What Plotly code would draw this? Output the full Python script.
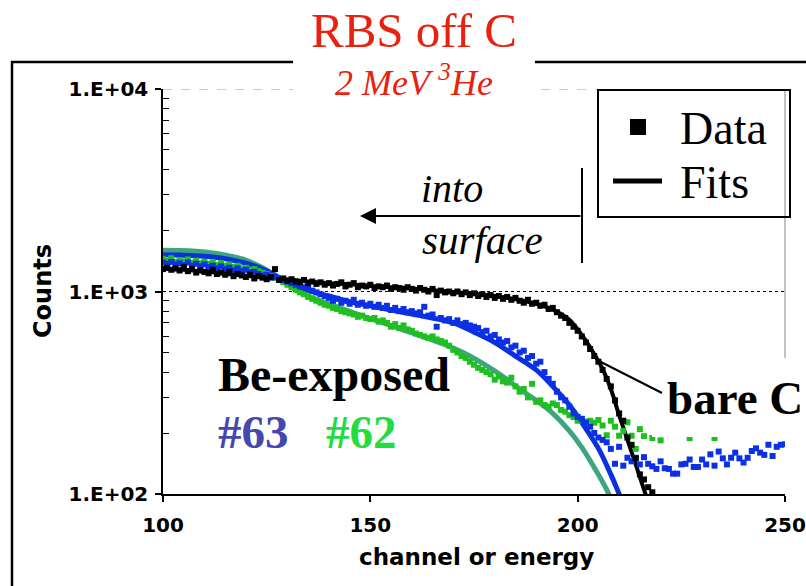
import plotly.graph_objects as go

# ---------------- data ----------------
ch_black = list(range(100, 219))
black_data = [1290, 1310, 1280, 1300, 1270, 1320, 1260, 1290, 1240, 1270,
              1250, 1230, 1280, 1220, 1240, 1210, 1250, 1190, 1220, 1200,
              1180, 1210, 1160, 1190, 1170, 1150, 1180, 1290, 1140, 1160,
              1130, 1150, 1120, 1110, 1140, 1100, 1120, 1090, 1110, 1080,
              1100, 1070, 1090, 1110, 1060, 1080, 1100, 1050, 1070, 1060,
              1080, 1040, 1060, 1050, 1070, 1030, 1050, 1040, 1020, 1050,
              1030, 1010, 1040, 1020, 1000, 1030, 960, 1010, 990, 1000,
              980, 1000, 970, 990, 960, 980, 950, 970, 940, 960,
              930, 950, 920, 940, 910, 930, 900, 880, 910, 870,
              880, 850, 860, 820, 830, 790, 760, 740, 700, 670,
              640, 600, 560, 520, 480, 450, 410, 370, 340, 290,
              250, 230, 190, 175, 150, 125, 118, 108, 102]

ch_blue = list(range(100, 251))
blue_data = [1390, 1370, 1400, 1360, 1380, 1350, 1390, 1340, 1370, 1330,
             1360, 1320, 1340, 1300, 1330, 1290, 1310, 1270, 1300, 1260,
             1280, 1240, 1250, 1220, 1200, 1210, 1170, 1180, 1150, 1140,
             1120, 1100, 1080, 1060, 1050, 1030, 1010, 990, 970, 950,
             930, 900, 920, 880, 900, 870, 910, 860, 880, 850,
             870, 840, 860, 830, 850, 810, 830, 800, 820, 790,
             800, 780, 790, 840, 760, 770, 670, 740, 720, 730,
             700, 720, 690, 700, 680, 670, 660, 630, 640, 600,
             610, 580, 560, 570, 530, 540, 500, 510, 470, 480,
             440, 450, 400, 370, 350, 320, 300, 290, 270, 250,
             240, 235, 225, 215, 200, 190, 185, 180, 167, 141,
             171, 138, 151, 145, 151, 140, 152, 141, 137, 133,
             145, 134, 133, 126, 126, 140, 141, 148, 136, 136,
             148, 140, 157, 138, 162, 150, 140, 151, 160, 150,
             143, 151, 163, 168, 160, 156, 175, 154, 171, 175,
             176]

ch_green = list(range(100, 217)) + [218, 220, 224, 227, 230, 233, 236, 240]
green_data = [1450, 1420, 1460, 1400, 1430, 1410, 1440, 1390, 1420, 1380,
              1400, 1370, 1390, 1350, 1380, 1340, 1360, 1320, 1340, 1300,
              1310, 1280, 1290, 1260, 1240, 1220, 1190, 1170, 1140, 1110,
              1080, 1050, 1020, 990, 970, 940, 920, 900, 880, 860,
              850, 830, 820, 800, 790, 780, 770, 750, 760, 740,
              730, 740, 710, 720, 700, 670, 690, 660, 680, 650,
              640, 620, 610, 600, 590, 600, 580, 570, 560, 540,
              515, 500, 480, 470, 450, 435, 420, 410, 400, 390,
              367, 380, 360, 355, 375, 340, 320, 330, 300, 350,
              285, 290, 275, 270, 280, 275, 260, 255, 245, 240,
              230, 235, 228, 230, 225, 232, 218, 195, 230, 215,
              194, 205, 226, 194, 167, 209, 193,
              189, 184, 210, 189, 220, 189, 200, 215]

fit_black_ch = [100, 105, 110, 115, 120, 125, 130, 135, 140, 145, 150, 155, 160, 165,
                170, 175, 180, 185, 190, 193, 196, 198, 200, 202, 204, 206, 208, 210,
                212, 214, 216, 218]
fit_black = [1300, 1280, 1255, 1225, 1195, 1170, 1145, 1120, 1100, 1085, 1065, 1050, 1035, 1015,
             995, 975, 950, 915, 870, 830, 775, 725, 650, 570, 490, 415, 330, 245,
             185, 140, 105, 80]

fit_blue_ch = [100, 104, 108, 112, 116, 120, 124, 128, 132, 136, 140, 145, 150, 155, 160,
               165, 170, 175, 180, 185, 190, 194, 198, 202, 205, 208, 210, 212]
fit_blue = [1520, 1515, 1500, 1480, 1440, 1380, 1290, 1170, 1060, 1000, 950, 890, 850, 810, 775,
            740, 700, 630, 560, 480, 410, 340, 275, 210, 168, 125, 100, 80]

fit_green_ch = [100, 104, 108, 112, 116, 120, 124, 128, 132, 136, 140, 146, 150, 154, 158,
                162, 166, 170, 174, 178, 182, 186, 190, 194, 198, 201, 204, 207, 209]
fit_green = [1600, 1595, 1580, 1550, 1500, 1430, 1310, 1170, 1020, 930, 870, 785, 735, 690, 645,
             605, 565, 525, 480, 430, 380, 330, 290, 250, 205, 170, 135, 105, 85]

x_ticks = [100, 150, 200, 250]
y_ticks = [100, 1000, 10000]
y_ticktext = ["1.E+02", "1.E+03", "1.E+04"]
y_minor = [m * 10 ** e for e in (2, 3) for m in range(2, 10)]

# ---------------- geometry helpers (pixel -> paper) ----------------
W, H = 806, 586
L, R, T, B = 163, 785, 89, 494


def px(x):
    return (x - L) / (R - L)


def py(y):
    return (B - y) / (B - T)


SERIF = "Liberation Serif, Times New Roman, serif"
SANS = "DejaVu Sans, Verdana, sans-serif"
RED = "#e8220f"

fig = go.Figure()

# fits
fig.add_trace(go.Scatter(x=fit_green_ch, y=fit_green, mode="lines", line_shape="spline",
                         line=dict(color="#3fa57e", width=5), showlegend=False))
fig.add_trace(go.Scatter(x=fit_blue_ch, y=fit_blue, mode="lines", line_shape="spline",
                         line=dict(color="#0b30e0", width=5), showlegend=False))
fig.add_trace(go.Scatter(x=fit_black_ch, y=fit_black, mode="lines", line_shape="spline",
                         line=dict(color="black", width=4), showlegend=False))
# data
fig.add_trace(go.Scatter(x=ch_green, y=green_data, mode="markers",
                         marker=dict(symbol="square", size=6, color="#1ec01e"), showlegend=False))
fig.add_trace(go.Scatter(x=ch_blue, y=blue_data, mode="markers",
                         marker=dict(symbol="square", size=6, color="#0b30e6"), showlegend=False))
fig.add_trace(go.Scatter(x=ch_black, y=black_data, mode="markers",
                         marker=dict(symbol="square", size=6, color="black"), showlegend=False))

shapes = []
# outer frame
shapes.append(dict(type="rect", xref="paper", yref="paper", x0=px(12), x1=px(830), y0=py(62), y1=py(620),
                   line=dict(color="black", width=2.5), layer="below"))
# gridlines
shapes.append(dict(type="line", xref="paper", yref="y", x0=0, x1=1, y0=1000, y1=1000,
                   line=dict(color="black", width=1, dash="dot"), layer="below"))
shapes.append(dict(type="line", xref="paper", yref="y", x0=0, x1=1, y0=10000, y1=10000,
                   line=dict(color="#999999", width=1.2, dash="dash"), layer="below"))
# right plot border (partial)
shapes.append(dict(type="line", xref="paper", yref="paper", x0=1, x1=1, y0=py(358), y1=1,
                   line=dict(color="#999999", width=1.2), layer="below"))
# title white box
shapes.append(dict(type="rect", xref="paper", yref="paper", x0=px(293), x1=px(535), y0=py(96), y1=py(40),
                   fillcolor="white", line=dict(width=0), layer="above"))
# bare C white box
shapes.append(dict(type="rect", xref="paper", yref="paper", x0=px(652), x1=px(830), y0=py(437), y1=py(358),
                   fillcolor="white", line=dict(width=0), layer="above"))
# bare C pointer
shapes.append(dict(type="line", xref="paper", yref="paper", x0=px(597), y0=py(360), x1=px(662), y1=py(393),
                   line=dict(color="black", width=2), layer="above"))
# into-surface bar
shapes.append(dict(type="line", xref="paper", yref="paper", x0=px(582), x1=px(582), y0=py(168), y1=py(263),
                   line=dict(color="black", width=2), layer="above"))
# legend box
shapes.append(dict(type="rect", xref="paper", yref="paper", x0=px(598), x1=px(790), y0=py(217), y1=py(90),
                   line=dict(color="black", width=2), layer="above"))
shapes.append(dict(type="rect", xref="paper", yref="paper", x0=px(630), x1=px(646), y0=py(135), y1=py(119),
                   fillcolor="black", line=dict(width=0), layer="above"))
shapes.append(dict(type="line", xref="paper", yref="paper", x0=px(613), x1=px(662), y0=py(181), y1=py(181),
                   line=dict(color="black", width=5), layer="above"))

ann = []


def text(t, x, y, size, color="black", family=SERIF, xanchor="center", yanchor="middle", angle=0):
    ann.append(dict(text=t, xref="paper", yref="paper", x=px(x), y=py(y), showarrow=False,
                    xanchor=xanchor, yanchor=yanchor, textangle=angle,
                    font=dict(size=size, color=color, family=family)))


text("RBS off C", 414, 31, 49, RED)
text("<i>2 MeV <sup>3</sup>He</i>", 414, 80, 36, RED)
text("<i>into</i>", 452, 188, 40)
text("<i>surface</i>", 482, 240, 41)
text("<b>Be-exposed</b>", 216, 374, 48, xanchor="left")
text("<b>#63</b>", 216, 432, 47, "#4646b0", xanchor="left")
text("<b>#62</b>", 324, 432, 47, "#22dd40", xanchor="left")
text("<b>bare C</b>", 665, 398, 47, xanchor="left")
text("Data", 678, 128, 46, xanchor="left")
text("Fits", 678, 182, 46, xanchor="left")
text("<b>Counts</b>", 43, 291, 24, family=SANS, angle=-90)
text("<b>channel or energy</b>", 476, 557, 23, family=SANS)

# arrow "into surface"
ann.append(dict(text="", xref="paper", yref="paper", x=px(360), y=py(216), ax=582 - 360, ay=0,
                axref="pixel", ayref="pixel", showarrow=True, arrowhead=2, arrowsize=1.6,
                arrowwidth=2, arrowcolor="black"))

fig.update_layout(
    width=W, height=H,
    margin=dict(l=L, r=W - R, t=T, b=H - B, pad=0, autoexpand=False),
    paper_bgcolor="white", plot_bgcolor="white",
    showlegend=False,
    shapes=shapes, annotations=ann,
    xaxis=dict(range=[100, 250], tickvals=x_ticks, ticks="outside", ticklen=6, tickwidth=1.5,
               tickcolor="black", showline=True, linecolor="black", linewidth=1.5,
               showgrid=False, zeroline=False, ticklabelstandoff=6, automargin=False,
               tickfont=dict(family=SANS, size=20, color="black", weight="bold")),
    yaxis=dict(type="log", range=[2, 4], tickvals=y_ticks, ticktext=y_ticktext,
               ticks="outside", ticklen=6, tickwidth=1.5, tickcolor="black",
               showline=True, linecolor="black", linewidth=1.5, showgrid=False, zeroline=False,
               ticklabelstandoff=3, automargin=False,
               tickfont=dict(family=SANS, size=20, color="black", weight="bold"),
               minor=dict(tickvals=y_minor, ticks="inside", ticklen=6, tickcolor="black",
                          tickwidth=1, showgrid=False)),
)

fig.write_html("out.html")
